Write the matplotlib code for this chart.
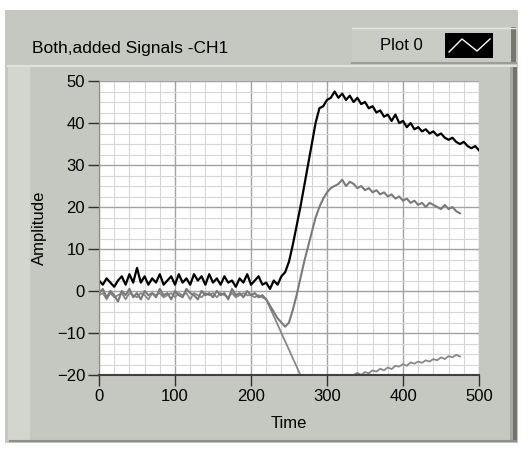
import numpy as np
import matplotlib.pyplot as plt
from matplotlib.patches import Rectangle
from matplotlib.lines import Line2D
from matplotlib.ticker import MultipleLocator

plt.rcParams['font.family'] = ['Liberation Sans', 'DejaVu Sans']

# sample times
time_sum = np.arange(0, 505, 5)
time_parts = np.arange(0, 480, 5)

# black trace: the added signal (t = 0..500, step 5)
signal_sum = [
    2.5, 1.5, 3.0, 2.0, 1.0, 2.5, 3.5, 1.5, 4.0, 2.0,
    5.5, 2.0, 3.5, 1.5, 3.0, 2.0, 4.0, 1.5, 2.5, 3.5,
    1.5, 4.0, 2.0, 3.0, 1.5, 4.0, 2.5, 3.5, 1.5, 4.0,
    2.0, 3.0, 1.5, 3.5, 2.0, 2.5, 1.0, 3.0, 2.0, 4.0,
    1.5, 2.5, 3.5, 1.5, 2.0, 0.5, 2.5, 1.5, 3.5, 4.5,
    7.0, 11.0, 15.5, 20.0, 25.0, 30.0, 35.0, 40.0, 43.5, 44.0,
    45.5, 46.0, 47.5, 46.0, 47.0, 45.5, 46.5, 45.0, 46.0, 44.5,
    45.0, 43.5, 44.0, 42.5, 43.0, 41.5, 42.0, 40.5, 42.0, 40.0,
    40.5, 39.0, 40.0, 38.5, 39.0, 38.0, 38.5, 37.5, 38.0, 37.0,
    37.5, 36.5, 36.0, 36.5, 35.5, 35.0, 35.5, 34.5, 34.0, 34.5,
    33.5,
]

# grey trace that rises (t = 0..475, step 5)
signal_up = [
    -0.5, 0.5, -1.5, 0.0, -1.0, -2.5, 0.0, -1.0, 0.5, -1.5,
    -0.5, -2.0, 0.0, -1.0, -0.5, -1.5, 0.5, -1.0, -0.5, -2.0,
    0.0, -1.0, -1.5, 0.5, -0.5, -1.0, -2.0, 0.0, -1.0, -0.5,
    -1.5, 0.0, -1.0, -0.5, -2.0, 0.5, -1.0, -0.5, -1.5, 0.0,
    -1.0, -0.5, -1.5, -1.0, -2.0, -3.5, -5.0, -6.5, -7.5, -8.5,
    -7.5, -4.5, -1.0, 3.0, 7.0, 10.5, 14.0, 17.5, 20.0, 22.0,
    23.5, 24.5, 25.0, 25.5, 26.5, 25.0, 26.0, 25.5, 24.5, 25.0,
    24.0, 24.5, 23.5, 24.0, 23.0, 23.5, 22.5, 23.0, 22.0, 22.5,
    21.5, 22.0, 21.0, 21.5, 20.5, 21.0, 20.0, 21.0, 20.5, 20.0,
    19.5, 20.5, 19.5, 20.0, 19.0, 18.5,
]

# grey trace that falls below the scale (t = 0..475, step 5)
signal_down = [
    -1.0, -0.5, -2.0, -0.5, -1.5, -1.0, -0.5, -2.0, -0.5, -1.0,
    -1.5, -0.5, -1.0, -2.0, -0.5, -1.0, -0.5, -1.5, -1.0, -0.5,
    -1.5, -0.5, -1.0, -0.5, -2.0, -0.5, -1.0, -1.5, -0.5, -1.0,
    -0.5, -1.5, -0.5, -1.0, -1.5, -0.5, -1.5, -1.0, -0.5, -1.0,
    -1.0, -1.5, -1.0, -1.5, -2.0, -4.0, -6.0, -8.0, -10.0, -12.0,
    -14.0, -16.0, -18.0, -20.0, -22.0, -21.8, -21.7, -21.5, -21.4, -21.2,
    -21.1, -21.0, -20.8, -20.7, -20.5, -20.4, -20.2, -20.0, -19.5, -20.0,
    -19.3, -19.6, -18.9, -19.2, -18.5, -18.9, -18.2, -18.6, -17.8, -18.0,
    -17.4, -17.8, -17.0, -17.3, -16.8, -17.1, -16.5, -16.8, -16.2, -16.5,
    -15.8, -16.2, -15.5, -15.8, -15.2, -15.6,
]

W, H = 529, 450
fig = plt.figure(figsize=(W / 100, H / 100), dpi=100)
fig.patch.set_facecolor('white')


def box(x0, y0, x1, y1, color):
    # rectangle given in pixel coords, origin top-left
    r = Rectangle((x0 / W, 1 - y1 / H), (x1 - x0) / W, (y1 - y0) / H,
                  transform=fig.transFigure, facecolor=color, edgecolor='none',
                  zorder=-5)
    fig.add_artist(r)


def hline(x0, x1, y, color, lw=1):
    fig.add_artist(Line2D([x0 / W, x1 / W], [1 - y / H, 1 - y / H],
                          transform=fig.transFigure, color=color, lw=lw,
                          zorder=-4))


# LabVIEW-like panel
box(5, 10, 518, 443, '#c4c8c0')
box(8, 65, 30, 440, '#d2d6ce')
hline(8, 516, 65.5, '#dfe3db', 1.5)
box(510, 65, 513, 441, '#a4a8a2')
box(513, 65, 517, 441, '#70746e')
hline(10, 516, 440.5, '#8c908a', 1.5)

# legend box
box(352, 27, 516, 63, '#c8ccc4')
hline(352, 516, 27.5, '#e2e6de', 1)
hline(352, 516, 62.5, '#9a9e98', 1.5)
box(511, 27, 516, 63, '#74786f')
fig.text(380 / W, 1 - 45 / H, 'Plot 0', fontsize=12, va='center', ha='left')
box(445, 33, 493, 58, 'black')
fig.add_artist(Line2D(np.array([449, 462, 477, 490]) / W,
                      1 - np.array([52, 39, 51, 39]) / H,
                      transform=fig.transFigure, color='white', lw=1))

fig.text(32 / W, 1 - 48 / H, 'Both,added Signals -CH1', fontsize=12.5,
         va='center', ha='left')

ax = fig.add_axes([99 / W, 1 - 375 / H, 380 / W, 294 / H])
ax.set_facecolor('white')

ax.plot(time_parts, signal_down, color='#888888', lw=1.3)
ax.plot(time_parts, signal_up, color='#7a7a7a', lw=1.5)
ax.plot(time_sum, signal_sum, color='black', lw=1.6)

ax.set_xlim(0, 500)
ax.set_ylim(-20, 50)
ax.xaxis.set_major_locator(MultipleLocator(100))
ax.xaxis.set_minor_locator(MultipleLocator(20))
ax.yaxis.set_major_locator(MultipleLocator(10))
ax.yaxis.set_minor_locator(MultipleLocator(2.5))
ax.set_axisbelow(True)
ax.grid(which='major', color='#a2a2a2', lw=1)
ax.grid(which='minor', color='#d6d6d6', lw=0.8)
ax.tick_params(which='minor', length=0)
ax.tick_params(which='major', direction='out', length=8, width=1,
               color='#303030', labelsize=12, pad=2)

for s in ['top', 'right']:
    ax.spines[s].set_visible(False)
ax.spines['bottom'].set_color('#404040')
ax.spines['bottom'].set_linewidth(1.5)
ax.spines['left'].set_color('#8a8a8a')

ax.set_xlabel('Time', fontsize=12, labelpad=9)
ax.set_ylabel('Amplitude', fontsize=12, labelpad=7)

fig.savefig('out.png', dpi=100)
